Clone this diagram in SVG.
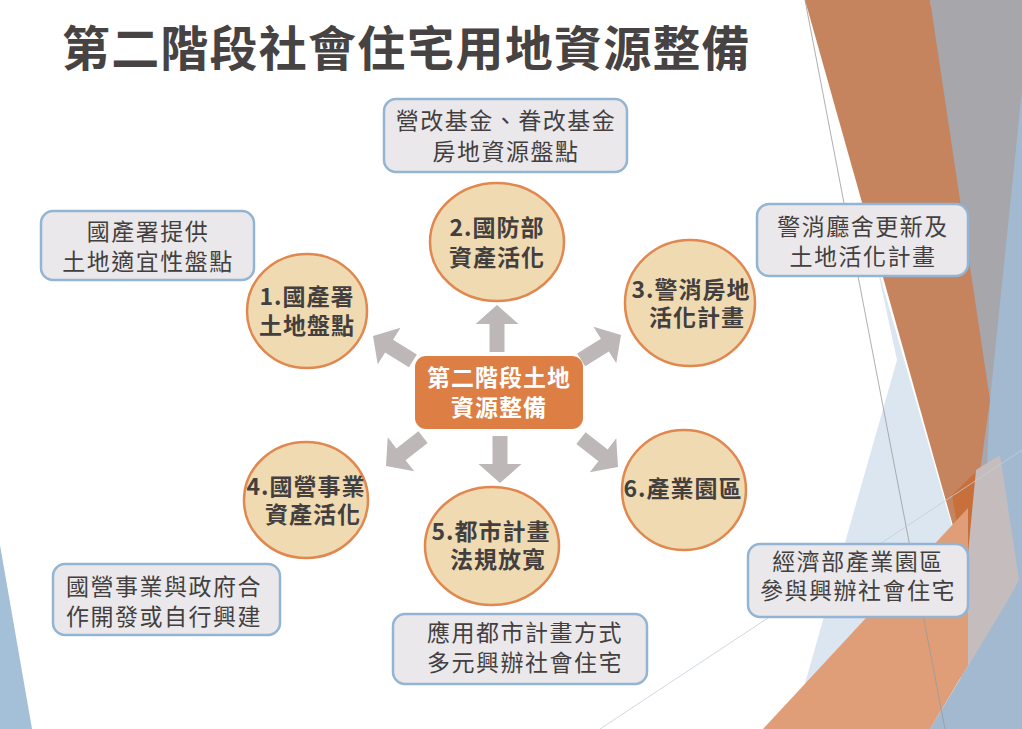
<svg xmlns="http://www.w3.org/2000/svg" width="1022" height="729" viewBox="0 0 1022 729">
  <defs>
    <style>
      .title { font-family: "Noto Sans CJK TC", "Noto Sans CJK SC", sans-serif; font-size: 48px; font-weight: bold; fill: #474343; letter-spacing: 1.2px; }
      .circ { fill: #EFDAB2; stroke: #E0884F; stroke-width: 2.5; }
      .ctext { font-family: "Noto Sans CJK TC", "Noto Sans CJK SC", sans-serif; font-size: 23px; font-weight: bold; fill: #433F3F; text-anchor: middle; letter-spacing: 1px; }
      .box { fill: #EAE8EA; stroke: #93B4D3; stroke-width: 2.5; }
      .btext { font-family: "Noto Sans CJK TC", "Noto Sans CJK SC", sans-serif; font-size: 23px; fill: #433F3F; text-anchor: middle; letter-spacing: 1.5px; }
      .center { fill: #DD7E45; }
      .wtext { font-family: "Noto Sans CJK TC", "Noto Sans CJK SC", sans-serif; font-size: 23px; font-weight: bold; fill: #FFFFFF; text-anchor: middle; letter-spacing: 1px; }
      .arrow { fill: #BDB7B8; }
    </style>
    <polygon id="arr" points="0,0 21.5,19 7.5,19 7.5,47 -7.5,47 -7.5,19 -21.5,19"/>
  </defs>

  <rect x="0" y="0" width="1022" height="729" fill="#FFFFFF"/>

  <!-- background decoration -->
  <g id="background">
    <polygon points="0,545 32,729 0,729" fill="#A4BFD8"/>
    <polygon points="876,262 897,360 792,729 990,729 966,575" fill="#DCE6F0"/>
    <polygon points="930,0 1022,0 1022,480 970,560" fill="#A6A6AB"/>
    <polygon points="1022,90 1022,729 975,729 990,400" fill="#A3B9D0"/>
    <polygon points="805,0 930,0 990,400 966,572" fill="#C5845D"/>
    <polygon points="952,495 980,468 966,575" fill="#C8703C"/>
    <polygon points="976,470 1000,455 1019,580 960,690 966,575" fill="#C5BDBD"/>
    <polygon points="763,729 968,508 968,665 930,729" fill="#DF9E77"/>
    <polygon points="930,729 1022,577 1022,729" fill="#A3B9D0"/>
    <line x1="805" y1="0" x2="945" y2="729" stroke="#9A9A9A" stroke-width="0.8"/>
    <line x1="600" y1="729" x2="1022" y2="450" stroke="#C3CED9" stroke-width="0.8"/>
  </g>

  <text class="title" x="62" y="66">第二階段社會住宅用地資源整備</text>

  <!-- connectors -->
  <g id="connectors" class="arrow">
    <use href="#arr" transform="translate(497,305)"/>
    <use href="#arr" transform="translate(500,483) rotate(180)"/>
    <use href="#arr" transform="translate(373,336) rotate(-58)"/>
    <use href="#arr" transform="translate(621,335) rotate(58)"/>
    <use href="#arr" transform="translate(386,466) rotate(-128)"/>
    <use href="#arr" transform="translate(618,467) rotate(128)"/>
  </g>

  <!-- center node -->
  <g id="center">
    <rect class="center" x="415" y="356" width="168" height="73" rx="11"/>
    <text class="wtext"><tspan x="499" y="386">第二階段土地</tspan><tspan x="499" y="416">資源整備</tspan></text>
  </g>

  <!-- circle nodes -->
  <g id="n1">
    <ellipse class="circ" cx="307" cy="311" rx="60" ry="57"/>
    <text class="ctext"><tspan x="307" y="305">1.國產署</tspan><tspan x="307" y="334">土地盤點</tspan></text>
  </g>
  <g id="n2">
    <ellipse class="circ" cx="497" cy="242" rx="67" ry="59"/>
    <text class="ctext"><tspan x="497" y="236">2.國防部</tspan><tspan x="497" y="266">資產活化</tspan></text>
  </g>
  <g id="n3">
    <ellipse class="circ" cx="690" cy="303" rx="65" ry="63"/>
    <text class="ctext"><tspan x="691" y="298">3.警消房地</tspan><tspan x="697" y="326">活化計畫</tspan></text>
  </g>
  <g id="n4">
    <ellipse class="circ" cx="306" cy="500" rx="62" ry="58"/>
    <text class="ctext"><tspan x="306" y="495">4.國營事業</tspan><tspan x="313" y="523">資產活化</tspan></text>
  </g>
  <g id="n5">
    <ellipse class="circ" cx="492" cy="546" rx="67" ry="59"/>
    <text class="ctext"><tspan x="491" y="540">5.都市計畫</tspan><tspan x="498" y="568">法規放寬</tspan></text>
  </g>
  <g id="n6">
    <ellipse class="circ" cx="684" cy="490" rx="62" ry="60"/>
    <text class="ctext" x="683" y="497">6.產業園區</text>
  </g>

  <!-- description boxes -->
  <g id="b1">
    <rect class="box" x="41" y="211" width="213" height="69" rx="12"/>
    <text class="btext"><tspan x="148" y="240">國產署提供</tspan><tspan x="148" y="270">土地適宜性盤點</tspan></text>
  </g>
  <g id="b2">
    <rect class="box" x="384" y="99" width="243" height="73" rx="12"/>
    <text class="btext"><tspan x="506" y="129">營改基金、眷改基金</tspan><tspan x="506" y="160">房地資源盤點</tspan></text>
  </g>
  <g id="b3">
    <rect class="box" x="757" y="204" width="211" height="72" rx="12"/>
    <text class="btext"><tspan x="863" y="235">警消廳舍更新及</tspan><tspan x="863" y="265">土地活化計畫</tspan></text>
  </g>
  <g id="b4">
    <rect class="box" x="53" y="564" width="227" height="71" rx="12"/>
    <text class="btext"><tspan x="164" y="595">國營事業與政府合</tspan><tspan x="164" y="625">作開發或自行興建</tspan></text>
  </g>
  <g id="b5">
    <rect class="box" x="393" y="614" width="254" height="70" rx="12"/>
    <text class="btext"><tspan x="525" y="641">應用都市計畫方式</tspan><tspan x="525" y="671">多元興辦社會住宅</tspan></text>
  </g>
  <g id="b6">
    <rect class="box" x="748" y="544" width="220" height="73" rx="12"/>
    <text class="btext"><tspan x="858" y="570">經濟部產業園區</tspan><tspan x="858" y="599">參與興辦社會住宅</tspan></text>
  </g>
</svg>
